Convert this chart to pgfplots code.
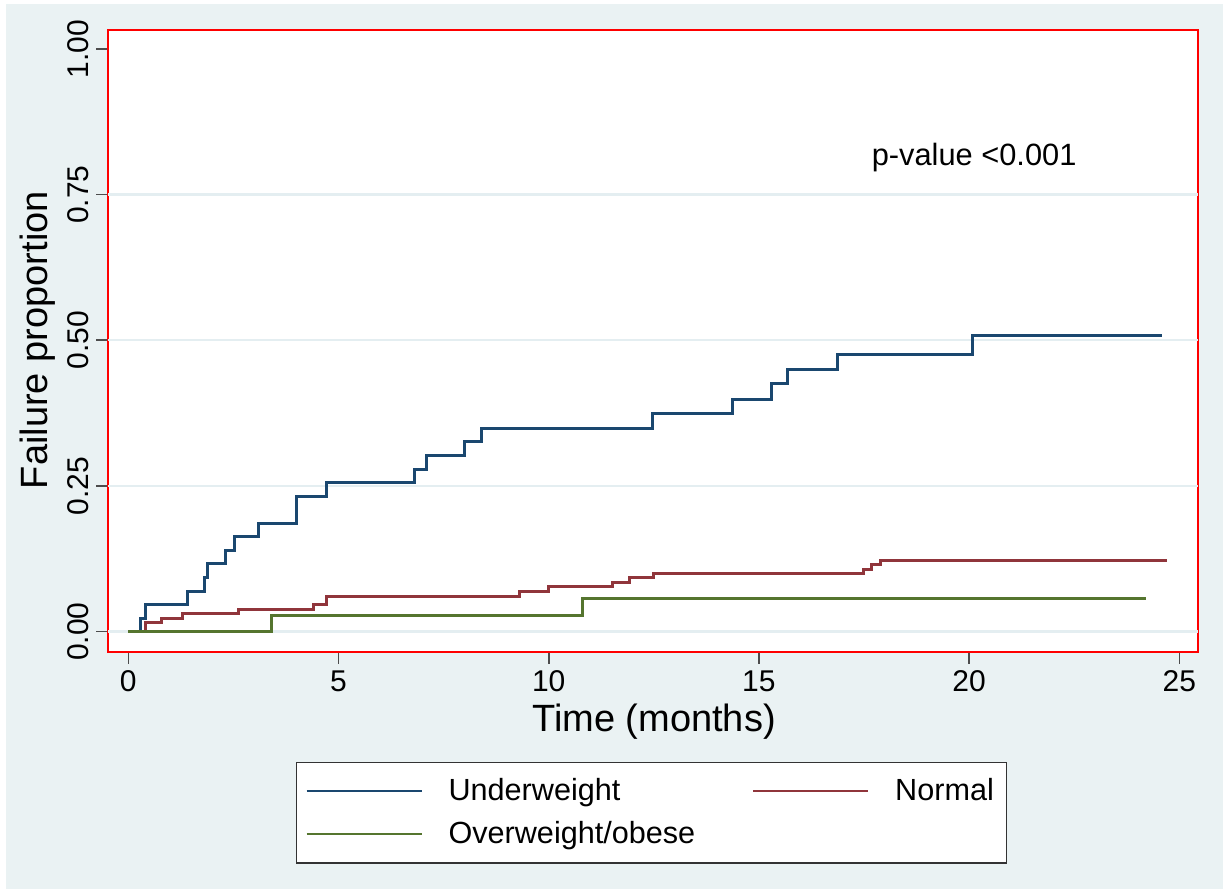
\documentclass[border=0pt]{standalone}
\usepackage{pgfplots}
\pgfplotsset{compat=1.18}
\usepackage{fontspec}
\setmainfont{Liberation Sans}
\definecolor{bgc}{RGB}{234,242,243}
\definecolor{gridc}{RGB}{228,238,241}
\definecolor{s2navy}{RGB}{26,71,111}
\definecolor{s2maroon}{RGB}{144,53,59}
\definecolor{s2green}{RGB}{85,117,47}
\begin{document}
\begin{tikzpicture}
\fill[white] (0,0) rectangle (611.5pt,445pt);
\fill[bgc] (3pt,0.5pt) rectangle (611.5pt,443pt);
\begin{axis}[
  at={(54.15pt,119.25pt)}, anchor=south west,
  scale only axis, width=545pt, height=310.75pt,
  xmin=-0.476, xmax=25.452, ymin=-0.034, ymax=1.0324,
  axis line style={draw=red, line width=1pt},
  axis background/.style={fill=white},
  tick align=outside, major tick length=6pt,
  tick style={black!70, line width=0.8pt},
  xtick={0,5,10,15,20,25}, ytick={0,0.25,0.5,0.75,1},
  xtick pos=bottom, ytick pos=left,
  minor tick num=0,
  extra y ticks={0,0.25,0.5,0.75}, extra y tick labels={},
  extra y tick style={ymajorgrids=true, major tick length=0pt, tick style={draw=none}},
  grid style={gridc, line width=1.2pt},
  /pgf/number format/assume math mode=true,
  yticklabel={\pgfmathprintnumber[fixed, fixed zerofill, precision=2]{\tick}},
  yticklabel style={rotate=90, anchor=south},
  ticklabel style={font=\fontsize{15}{18}\selectfont, text=black},
  xlabel={Time (months)}, ylabel={Failure proportion},
  label style={font=\fontsize{19}{23}\selectfont},
  xlabel style={at={(axis description cs:0.5007,-0.1134)}, anchor=center},
  ylabel style={at={(axis description cs:-0.0645,0.501)}, anchor=center},
  legend columns=2,
  legend cell align=left,
  legend style={at={(axis description cs:0.1722,-0.1778)}, anchor=north west,
    draw=black!80, line width=0.6pt, fill=white,
    font=\fontsize{15.3}{18}\selectfont,
    inner xsep=4.5pt, inner ysep=6pt, row sep=5pt,
    /tikz/every even column/.append style={column sep=26.5pt},
    /tikz/every odd column/.append style={column sep=11pt}},
  legend image code/.code={\draw[#1, line width=1pt] (0pt,0pt) -- (57.5pt,0pt);},
]
\addplot[const plot, s2navy, line width=1.5pt] coordinates {
(0,0) (0.30,0.0233) (0.40,0.0465) (1.41,0.0698) (1.81,0.093) (1.89,0.1163)
(2.31,0.1395) (2.52,0.1628) (3.10,0.186) (3.99,0.2326) (4.72,0.2558)
(6.80,0.2791) (7.10,0.3023) (7.99,0.3256) (8.39,0.3488) (12.48,0.374)
(14.38,0.399) (15.30,0.425) (15.69,0.450) (16.88,0.476) (20.07,0.509) (24.59,0.509)};
\addlegendentry{Underweight}
\addplot[const plot, s2maroon, line width=1.5pt] coordinates {
(0,0) (0.40,0.016) (0.80,0.023) (1.30,0.0316) (2.61,0.0384) (4.40,0.0458)
(4.72,0.060) (9.30,0.0687) (10.0,0.077) (11.51,0.085) (11.91,0.093)
(12.49,0.099) (17.49,0.107) (17.67,0.1145) (17.89,0.123) (24.70,0.123)};
\addlegendentry{Normal}
\addplot[const plot, s2green, line width=1.5pt] coordinates {
(0,0) (3.41,0.028) (10.80,0.0567) (24.21,0.0567)};
\addlegendentry{Overweight/obese}
\node[font=\fontsize{15.4}{18}\selectfont, anchor=center] at (axis cs:20.12,0.813) {p-value <0.001};
\end{axis}
\end{tikzpicture}
\end{document}
